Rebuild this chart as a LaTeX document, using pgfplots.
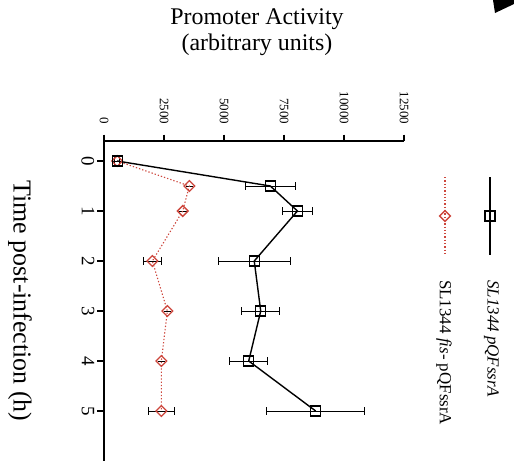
\documentclass[border=0pt]{standalone}
\usepackage{fontspec}
\setmainfont{Liberation Serif}
\usepackage{pgfplots}
\usepackage{pgfplotstable}
\pgfplotsset{compat=1.18}
\definecolor{redd}{RGB}{205,70,60}
% time (h), promoter activity, error
\pgfplotstableread{
t    act   err
0    550   100
0.5  6930  1040
1    8060  640
2    6260  1510
3    6530  790
4    6030  785
5    8820  2040
}\wt
\pgfplotstableread{
t    act   err
0    550   0
0.5  3555  0
1    3280  0
2    2015  380
3    2640  0
4    2390  0
5    2390  535
}\fis
\begin{document}
\begin{tikzpicture}
\useasboundingbox (0,0) rectangle (514bp,-464bp);
\fill[black] (493bp,0bp) -- (514bp,0bp) -- (514bp,-4bp) -- (495bp,-13bp) -- cycle;
\begin{axis}[
  at={(104bp,-141bp)}, anchor=north west,
  scale only axis, width=300bp, height=320bp,
  xmin=0, xmax=12500, ymin=-0.4, ymax=6,
  y dir=reverse,
  axis x line=top, axis y line=left,
  axis line style={-, line width=1.2bp},
  tick align=outside,
  major tick length=6.5bp,
  every tick/.style={black, line width=1.2bp},
  xtick={0,2500,5000,7500,10000,12500},
  ytick={0,1,2,3,4,5},
  scaled x ticks=false,
  /pgf/number format/assume math mode=true,
  /pgf/number format/1000 sep={},
  x tick label style={font=\fontsize{13}{14}\selectfont, rotate=-90, anchor=east, inner xsep=10bp},
  y tick label style={font=\fontsize{19}{20}\selectfont, rotate=-90, anchor=north, inner ysep=3bp},
  xlabel={Promoter Activity\\(arbitrary units)},
  xlabel style={at={(axis description cs:0.51,1)}, anchor=south, yshift=85bp, align=center, font=\fontsize{24}{26}\selectfont, inner sep=0pt},
  ylabel={Time post-infection (h)},
  ylabel style={at={(axis description cs:-0.28,0.5)}, anchor=center, rotate=-180, font=\fontsize{26}{28}\selectfont, inner sep=0pt},
  clip=false,
]
% error bars first, so the markers lie on top of them
\addplot[forget plot, draw=none, mark=none,
  error bars/.cd, x dir=both, x explicit,
  error bar style={draw=black, solid, line width=1bp},
  error mark=|,
  error mark options={draw=black, solid, mark size=3.8bp, line width=1bp}]
  table[x=act, y=t, x error=err] {\fis};
\addplot[forget plot, draw=none, mark=none,
  error bars/.cd, x dir=both, x explicit,
  error bar style={draw=black, solid, line width=1bp},
  error mark=|,
  error mark options={draw=black, solid, mark size=3.8bp, line width=1bp}]
  table[x=act, y=t, x error=err] {\wt};
% series
\addplot[redd, dash pattern=on 1.3bp off 2bp, line width=1.1bp,
  mark=square, mark size=3.8bp,
  mark options={solid, rotate=45, fill=white, line width=1.3bp}]
  table[x=act, y=t] {\fis};
\addplot[black, solid, line width=1.4bp,
  mark=square, mark size=5bp,
  mark options={solid, fill=white, line width=1.3bp}]
  table[x=act, y=t] {\wt};
% legend (drawn rotated, like the rest of the figure)
\addplot[forget plot, black, solid, line width=1.4bp,
  mark=square, mark size=5bp, mark repeat=2, mark phase=2,
  mark options={solid, fill=white, line width=1.3bp}]
  coordinates {(16083,0.32) (16083,1.1) (16083,1.88)};
\addplot[forget plot, redd, dash pattern=on 1.3bp off 2bp, line width=1.1bp,
  mark=square, mark size=3.8bp, mark repeat=2, mark phase=2,
  mark options={solid, rotate=45, fill=white, line width=1.3bp}]
  coordinates {(14208,0.32) (14208,1.1) (14208,1.88)};
\node[rotate=-90, anchor=west, inner sep=0pt, font=\fontsize{17}{19}\selectfont]
  at (axis cs:16146,2.38) {\textit{SL1344 pQFssrA}};
\node[rotate=-90, anchor=west, inner sep=0pt, font=\fontsize{17}{19}\selectfont]
  at (axis cs:14167,2.38) {SL1344 \textit{fis-} pQFssrA};
\end{axis}
\end{tikzpicture}
\end{document}
